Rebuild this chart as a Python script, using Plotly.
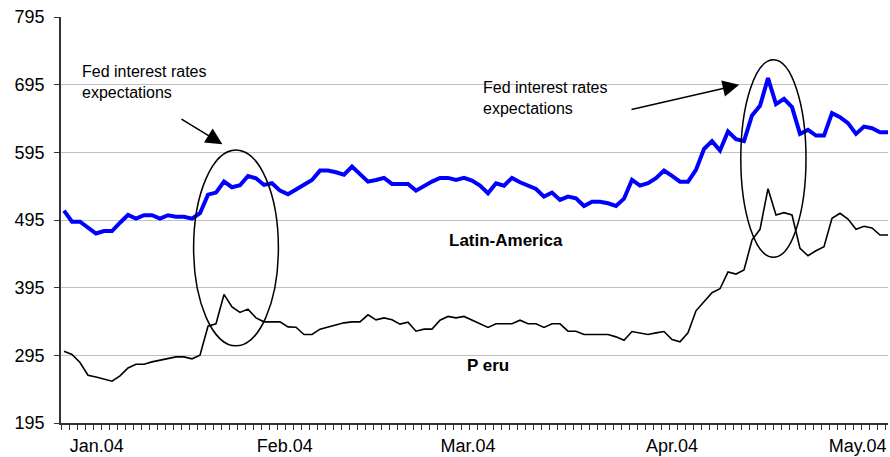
import plotly.graph_objects as go

# Daily spreads (basis points), trading days from early January to late May 2004
latin_america = [
    508.8, 492.5, 492.5, 483.0, 475.0, 478.7, 478.7, 491.0, 502.4, 497.0,
    502.0, 502.0, 497.0, 502.0, 499.8, 499.8, 497.0, 505.0, 532.5, 535.5,
    551.7, 543.4, 546.3, 560.0, 556.7, 546.8, 549.3, 538.4, 533.0, 540.0,
    547.0, 554.2, 568.0, 568.0, 565.5, 562.0, 574.0, 563.0, 551.7, 554.2,
    557.2, 548.3, 548.3, 548.3, 538.4, 545.3, 551.7, 557.2, 557.2, 554.2,
    557.2, 553.2, 545.8, 534.5, 549.3, 545.8, 557.2, 550.8, 545.8, 540.9,
    529.5, 535.5, 524.6, 529.5, 527.1, 515.7, 522.1, 522.0, 519.7, 515.7,
    526.5, 554.2, 545.8, 549.3, 556.7, 568.0, 560.1, 551.7, 551.7, 569.0,
    600.0, 611.5, 597.6, 625.7, 614.4, 611.5, 649.4, 663.7, 704.7, 666.2,
    674.1, 661.8, 622.3, 628.2, 619.8, 619.8, 652.9, 647.0, 638.1, 622.3,
    633.1, 630.7, 624.8, 624.8,
]

peru = [
    301.1, 296.3, 284.4, 265.6, 263.1, 260.2, 256.8, 264.6, 276.4, 281.9,
    281.9, 285.3, 287.8, 290.3, 292.7, 292.7, 289.8, 295.2, 338.1, 341.6,
    385.0, 366.7, 358.4, 363.3, 350.4, 344.5, 344.5, 344.5, 337.1, 336.6,
    325.8, 325.8, 333.7, 337.1, 340.6, 343.0, 344.5, 344.5, 354.9, 347.5,
    350.4, 347.5, 341.1, 344.0, 330.7, 333.7, 333.7, 347.0, 352.5, 350.4,
    352.5, 347.0, 341.6, 336.2, 341.6, 341.6, 341.6, 347.0, 341.6, 341.6,
    336.2, 341.6, 341.6, 330.7, 330.7, 325.8, 325.8, 325.8, 325.8, 322.3,
    317.4, 330.2, 328.2, 325.8, 328.2, 330.2, 318.4, 314.9, 328.2, 360.8,
    374.1, 387.5, 393.4, 418.1, 415.1, 421.1, 465.4, 481.2, 541.3, 502.4,
    505.8, 502.4, 453.1, 442.2, 449.6, 455.5, 497.5, 505.0, 496.5, 481.2,
    485.7, 483.2, 472.8, 472.8,
]

days = list(range(len(latin_america)))

month_labels = ["Jan.04", "Feb.04", "Mar.04", "Apr.04", "May.04"]
month_positions = [4.1, 27.6, 50.5, 76.0, 99.2]

y_ticks = [195, 295, 395, 495, 595, 695, 795]

FONT = "Liberation Sans, Arial, sans-serif"

fig = go.Figure()

fig.add_trace(go.Scatter(
    x=days, y=peru, mode="lines",
    line=dict(color="#000000", width=1.6),
    name="Peru", showlegend=False,
))
fig.add_trace(go.Scatter(
    x=days, y=latin_america, mode="lines",
    line=dict(color="#0000ff", width=4),
    name="Latin-America", showlegend=False,
))

# Series labels
fig.add_annotation(x=55.3, y=464, text="<b>Latin-America</b>",
                   showarrow=False, font=dict(family=FONT, size=17, color="#000"))
fig.add_annotation(x=53.0, y=279.5, text="<b>P eru</b>",
                   showarrow=False, font=dict(family=FONT, size=17, color="#000"))

# Event notes
note = "Fed interest rates<br>expectations"
fig.add_annotation(x=2.0, y=699, text=note, showarrow=False, align="left",
                   xanchor="left", yanchor="middle",
                   font=dict(family=FONT, size=16, color="#000"))
fig.add_annotation(x=52.1, y=675, text=note, showarrow=False, align="left",
                   xanchor="left", yanchor="middle",
                   font=dict(family=FONT, size=16, color="#000"))

# Arrows pointing at the highlighted episodes
fig.add_annotation(x=19.8, y=607, ax=14.5, ay=645.5, axref="x", ayref="y",
                   xref="x", yref="y", text="", showarrow=True,
                   arrowhead=2, arrowsize=2.2, arrowwidth=1.5, arrowcolor="#000")
fig.add_annotation(x=84.4, y=694.8, ax=70.75, ay=657.8, axref="x", ayref="y",
                   xref="x", yref="y", text="", showarrow=True,
                   arrowhead=2, arrowsize=2.2, arrowwidth=1.5, arrowcolor="#000")

# Ellipses around the two episodes
fig.add_shape(type="circle", xref="x", yref="y", x0=16.2, x1=26.8, y0=309, y1=598.6,
              line=dict(color="#000", width=1.5))
fig.add_shape(type="circle", xref="x", yref="y", x0=84.6, x1=92.75, y0=439.8, y1=731.8,
              line=dict(color="#000", width=1.5))

fig.update_layout(
    width=890, height=457,
    margin=dict(l=61, r=2, t=17, b=34),
    paper_bgcolor="white", plot_bgcolor="white",
    font=dict(family=FONT, color="#000"),
)

fig.update_xaxes(
    range=[-0.375, 103.0],
    tickvals=month_positions, ticktext=month_labels,
    ticks="", showgrid=False, zeroline=False,
    showline=True, linecolor="#333333", linewidth=1.5,
    tickfont=dict(family=FONT, size=18, color="#000"),
    ticklabelstandoff=6,
    minor=dict(ticks="outside", ticklen=5, tickcolor="#333333", tickwidth=1,
               tick0=-0.375, dtick=1, showgrid=False),
)

fig.update_yaxes(
    range=[195, 795],
    tickvals=y_ticks, ticktext=[str(v) for v in y_ticks],
    ticks="outside", ticklen=5, tickcolor="#333333",
    showgrid=True, gridcolor="#c0c0c0", gridwidth=1,
    zeroline=False,
    showline=True, linecolor="#333333", linewidth=1.5,
    tickfont=dict(family=FONT, size=18, color="#000"),
    ticklabelstandoff=6,
)

fig.write_html("out.html")
